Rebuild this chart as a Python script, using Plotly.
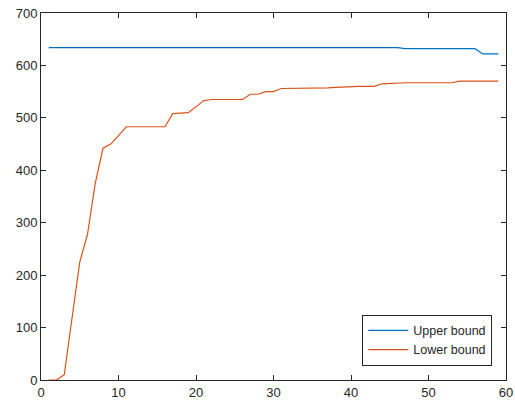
import plotly.graph_objects as go

iterations = list(range(1, 60))
upper_bound = [634] * 46 + [632] * 10 + [622] * 3
lower_bound = [0, 0, 10, 115, 225, 278, 375, 442, 450, 466,
               483, 483, 483, 483, 483, 483, 508, 509, 510, 521,
               533, 535, 535, 535, 535, 535, 545, 545, 550, 550,
               556, 556, 556, 556, 556, 556, 557, 558, 559, 559,
               560, 560, 560, 565, 566, 566, 567, 567, 567, 567,
               567, 567, 567, 570, 570, 570, 570, 570, 570]
x_ticks = [0, 10, 20, 30, 40, 50, 60]
y_ticks = [0, 100, 200, 300, 400, 500, 600, 700]

axis_color = "#262626"
fig = go.Figure()
fig.add_trace(go.Scatter(x=iterations, y=upper_bound, mode="lines", name="Upper bound",
                         line=dict(color="#0072BD", width=1.2)))
fig.add_trace(go.Scatter(x=iterations, y=lower_bound, mode="lines", name="Lower bound",
                         line=dict(color="#D95319", width=1.2)))

common = dict(showgrid=False, zeroline=False, showline=True, linecolor=axis_color, linewidth=1,
              mirror="ticks", ticks="inside", ticklen=5, tickcolor=axis_color,
              tickfont=dict(family="Liberation Sans, Arial", size=13, color=axis_color))
fig.update_xaxes(range=[0, 60], tickvals=x_ticks, automargin=False, **common)
fig.update_yaxes(range=[0, 700], tickvals=y_ticks, automargin=False, **common)

fig.update_layout(
    width=515, height=408,
    margin=dict(l=41, r=9, t=13, b=28),
    plot_bgcolor="white", paper_bgcolor="white",
    font=dict(family="Liberation Sans, Arial", size=13, color=axis_color),
    legend=dict(x=0.9705, y=0.039, xanchor="right", yanchor="bottom",
                bordercolor=axis_color, borderwidth=1, bgcolor="white",
                font=dict(size=12.5, color=axis_color), itemwidth=40,
                tracegroupgap=0),
    showlegend=True,
)
fig.write_html("out.html", config={"displayModeBar": False},
               post_script="document.body.style.margin='0';document.body.style.overflow='hidden';")
